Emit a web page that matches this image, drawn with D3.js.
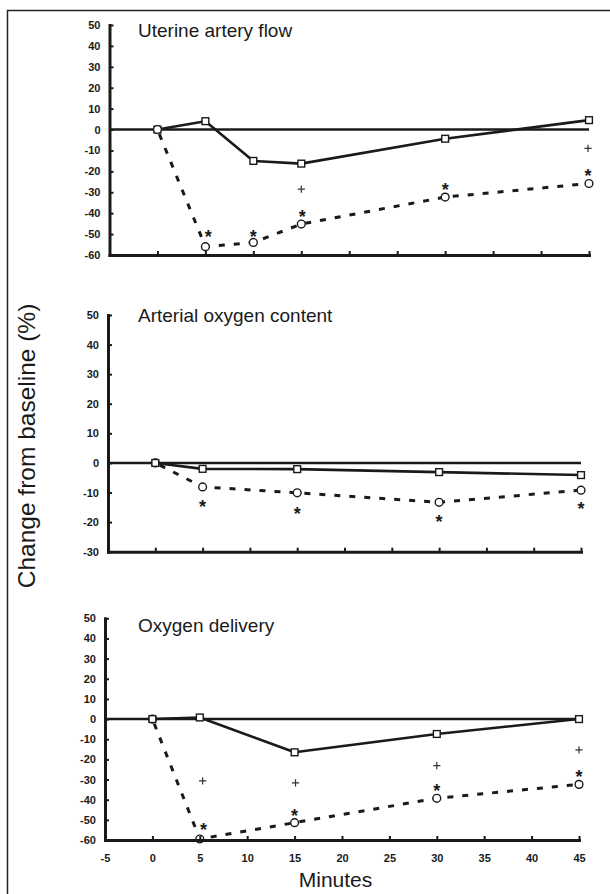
<!DOCTYPE html>
<html>
<head>
<meta charset="utf-8">
<script src="https://cdn.jsdelivr.net/npm/d3@7"></script>
<style>
  body { margin: 0; background: #fff; }
  svg { display: block; font-family: Arial, "Liberation Sans", Helvetica, sans-serif; }
</style>
</head>
<body>
<svg width="610" height="894"></svg>
<script>
// time points in minutes
let minutes_flow = [0, 5, 10, 15, 30, 45];
let minutes_other = [0, 5, 15, 30, 45];
let x_ticks = [-5, 0, 5, 10, 15, 20, 25, 30, 35, 40, 45];
let y_ticks_long = [50, 40, 30, 20, 10, 0, -10, -20, -30, -40, -50, -60];
let y_ticks_short = [50, 40, 30, 20, 10, 0, -10, -20, -30];

// uterine artery flow (% change)
let flow_solid = [0, 4, -15, -16.3, -4.4, 4.5];
let flow_dashed = [0, -56, -54, -45.2, -32.3, -25.8];
let flow_stars = [[5.3, -49.5], [10, -49.4], [15.1, -40.1], [30, -26.9], [44.9, -20.2]];
let flow_plus = [[15, -28.5], [44.9, -9]];

// arterial oxygen content
let content_solid = [0, -2, -2.1, -3.1, -4.1];
let content_dashed = [0, -8.1, -10.1, -13.3, -9.2];
let content_stars = [[5, -13.5], [15, -15.8], [30, -18.6], [45, -14.2]];
let content_plus = [];

// oxygen delivery
let delivery_solid = [0, 0.8, -16.5, -7.4, 0];
let delivery_dashed = [0, -59.5, -51.4, -39.3, -32.4];
let delivery_stars = [[5.4, -52.9], [15, -46.4], [30, -33.9], [45, -26.9]];
let delivery_plus = [[5.3, -30.7], [15.1, -31.7], [30, -23.1], [45, -15.3]];

let ink = '#1a1a1a';
let svg = d3.select('svg');

let panels = [
    { title: 'Uterine artery flow', minutes: minutes_flow, solid: flow_solid, dashed: flow_dashed,
      stars: flow_stars, plus: flow_plus, yTicks: y_ticks_long,
      left: 109.5, right: 589, top: 25, bottom: 255, titleY: 36.5, squaresOnTop: false, xLabels: false },
    { title: 'Arterial oxygen content', minutes: minutes_other, solid: content_solid, dashed: content_dashed,
      stars: content_stars, plus: content_plus, yTicks: y_ticks_short,
      left: 108, right: 581, top: 315, bottom: 551.7, titleY: 321.5, squaresOnTop: true, xLabels: false },
    { title: 'Oxygen delivery', minutes: minutes_other, solid: delivery_solid, dashed: delivery_dashed,
      stars: delivery_stars, plus: delivery_plus, yTicks: y_ticks_long,
      left: 105, right: 579, top: 618.3, bottom: 840, titleY: 632, squaresOnTop: true, xLabels: true }
];

// frame round the figure
svg.append('path')
    .attr('d', 'M7.5,894 V10.5 H610')
    .attr('fill', 'none')
    .attr('stroke', '#222')
    .attr('stroke-width', 1.5);

function drawPanel(p) {
    let yMin = d3.min(p.yTicks);
    let x = d3.scaleLinear().domain([-5, 45]).range([p.left, p.right]);
    let y = d3.scaleLinear().domain([yMin, 50]).range([p.bottom, p.top]);
    let g = svg.append('g');

    // baseline reference
    g.append('line')
        .attr('x1', x(-5)).attr('x2', x(45))
        .attr('y1', y(0)).attr('y2', y(0))
        .attr('stroke', ink)
        .attr('stroke-width', 2.4);

    let line = d3.line()
        .x(function (d) { return x(d[0]); })
        .y(function (d) { return y(d[1]); });
    let solid = d3.zip(p.minutes, p.solid);
    let dashed = d3.zip(p.minutes, p.dashed);

    g.append('path')
        .attr('d', line(solid))
        .attr('fill', 'none')
        .attr('stroke', ink)
        .attr('stroke-width', 2.6)
        .attr('stroke-linejoin', 'round');
    g.append('path')
        .attr('d', line(dashed))
        .attr('fill', 'none')
        .attr('stroke', ink)
        .attr('stroke-width', 3)
        .attr('stroke-dasharray', '6,9')
        .attr('stroke-dashoffset', -5);

    function drawSquares() {
        g.selectAll(null)
            .data(solid)
            .join('rect')
            .attr('x', function (d) { return x(d[0]) - 3.4; })
            .attr('y', function (d) { return y(d[1]) - 3.4; })
            .attr('width', 6.8)
            .attr('height', 6.8)
            .attr('fill', '#fff')
            .attr('stroke', ink)
            .attr('stroke-width', 1.4);
    }
    function drawCircles() {
        g.selectAll(null)
            .data(dashed)
            .join('circle')
            .attr('cx', function (d) { return x(d[0]); })
            .attr('cy', function (d) { return y(d[1]); })
            .attr('r', 3.9)
            .attr('fill', '#fff')
            .attr('stroke', ink)
            .attr('stroke-width', 1.4);
    }
    if (p.squaresOnTop) { drawCircles(); drawSquares(); }
    else { drawSquares(); drawCircles(); }

    // significance marks
    g.selectAll(null)
        .data(p.stars)
        .join('text')
        .attr('x', function (d) { return x(d[0]); })
        .attr('y', function (d) { return y(d[1]); })
        .attr('dy', '0.55em')
        .attr('text-anchor', 'middle')
        .attr('font-size', 18)
        .attr('font-weight', 'bold')
        .attr('fill', ink)
        .text('*');
    g.selectAll(null)
        .data(p.plus)
        .join('path')
        .attr('d', function (d) {
            let cx = x(d[0]), cy = y(d[1]);
            return 'M' + (cx - 3.6) + ',' + cy + 'H' + (cx + 3.6) +
                'M' + cx + ',' + (cy - 3.6) + 'V' + (cy + 3.6);
        })
        .attr('stroke', '#333')
        .attr('stroke-width', 1.2);

    // axes
    let xAxis = g.append('g')
        .attr('transform', 'translate(0,' + p.bottom + ')')
        .call(d3.axisBottom(x)
            .tickValues(x_ticks)
            .tickSize(-4)
            .tickSizeOuter(0)
            .tickPadding(14.5)
            .tickFormat(function (d) { return p.xLabels ? String(d) : ''; }));
    let yAxis = g.append('g')
        .attr('transform', 'translate(' + p.left + ',0)')
        .call(d3.axisLeft(y)
            .tickValues(p.yTicks)
            .tickSize(-4)
            .tickSizeOuter(0)
            .tickPadding(9)
            .tickFormat(function (d) { return String(d); }));

    [xAxis, yAxis].forEach(function (a) {
        a.attr('font-family', null).attr('font-size', null);
        a.select('.domain')
            .attr('stroke', ink)
            .attr('stroke-width', 3)
            .attr('stroke-linecap', 'square');
        a.selectAll('.tick line')
            .attr('stroke', ink)
            .attr('stroke-width', 2);
        a.selectAll('.tick text')
            .attr('fill', ink)
            .attr('font-size', 11)
            .attr('font-weight', 'bold');
    });

    g.append('text')
        .attr('x', 138)
        .attr('y', p.titleY)
        .attr('font-size', 19)
        .attr('fill', ink)
        .text(p.title);
}

panels.forEach(drawPanel);

svg.append('text')
    .attr('transform', 'translate(35,446) rotate(-90)')
    .attr('text-anchor', 'middle')
    .attr('font-size', 24.5)
    .attr('fill', ink)
    .text('Change from baseline (%)');

svg.append('text')
    .attr('x', 335.5)
    .attr('y', 886.5)
    .attr('text-anchor', 'middle')
    .attr('font-size', 21)
    .attr('fill', ink)
    .text('Minutes');
</script>
</body>
</html>
